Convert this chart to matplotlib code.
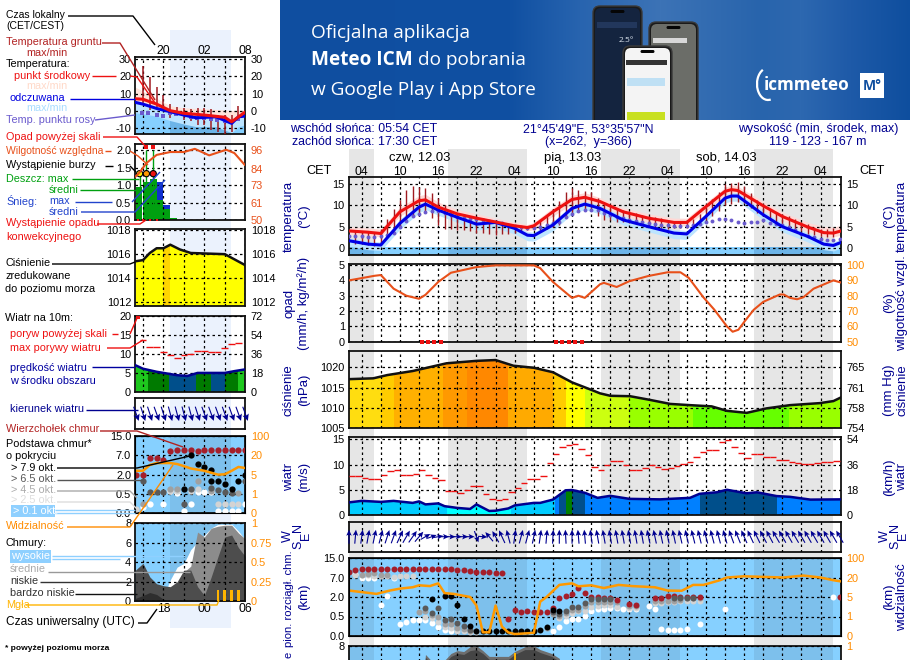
import numpy as np
import matplotlib
matplotlib.use("Agg")
import matplotlib.pyplot as plt
from matplotlib.patches import FancyBboxPatch, Rectangle, Arc

W, H = 910, 660
plt.rcParams['font.family'] = ['Liberation Sans', 'DejaVu Sans']
FS = 7.8
NAVY = '#000090'
ORANGE = '#ff8c00'
RH_COL = '#e8501a'
SKY = '#86d0ff'
SKY_N = '#7dc0ec'

# ---------- main chart, hours counted from 12.03 00 CET
night_main = [(0, 5.9), (17.5, 29.9), (41.5, 53.9), (65.6, 77.9)]
t_hours = [2, 5, 7, 10, 13, 14, 16, 19, 22, 25, 28, 30, 31, 34, 37, 39, 41.4, 45, 49, 53, 55, 58, 61, 62, 63, 67, 70, 74, 76.5, 78, 79.2]
t_mid = [4.0, 3.7, 3.4, 8.5, 11.1, 11.3, 9.6, 8, 7, 6.1, 5.2, 4.8, 5.2, 8.5, 11.4, 11.9, 10.9, 8.5, 7, 6, 6, 9.7, 13.3, 13.7, 13.5, 9.9, 7.4, 4.9, 3.6, 3.5, 4.0]
t_hi = [5, 4.7, 4.4, 9.6, 12.3, 12.6, 10.8, 9, 8, 7, 6, 5.5, 6, 9.5, 12.4, 13, 11.8, 9.4, 8, 7, 7, 10.7, 14.2, 14.8, 14.5, 10.9, 8.4, 6, 5, 4.9, 5.3]
t_lo = [3.2, 2.9, 2.6, 7.5, 10, 10.2, 8.7, 7, 6, 5.2, 4.4, 4, 4.3, 7.5, 10.3, 10.8, 9.9, 7.6, 6, 5.2, 5.2, 8.7, 12.2, 12.7, 12.5, 8.9, 6.5, 3.9, 2.7, 2.6, 3]
felt = [1.7, 0.9, 0.7, 5.8, 9.6, 10.3, 8.9, 7.2, 5.6, 6, 4.6, 3, 2.9, 5.4, 9.3, 10.3, 9.3, 6.6, 5, 3.5, 3.3, 7.4, 11.7, 12.2, 12.2, 7.8, 5, 2.7, 0.9, 0.6, 1.3]
felt_hi = [2.4, 1.6, 1.4, 6.8, 10.4, 11.1, 9.7, 8, 6.4, 6.8, 5.4, 3.8, 3.7, 6.3, 10.1, 11, 10.1, 7.4, 5.8, 4.3, 4.1, 8.2, 12.4, 13, 13, 8.7, 5.8, 3.5, 1.7, 1.4, 2.1]
felt_lo = [0.4, -.4, -.6, 4.4, 8.3, 9, 7.7, 6, 4.2, 4.7, 3.3, 1.7, 1.6, 4, 8, 9, 8, 5.4, 3.8, 2.2, 2, 6.2, 10.6, 11, 11, 6.6, 3.8, 1.4, -.4, -.7, 0]
dew = [2.9, 2.8, 2.7, 2.6, 2.6, 2.7, 3, 3.6, 5, 6.4, 7.4, 8, 8.5, 8.8, 8.7, 8.2, 7.7, 7.2, 7, 6.9, 6.9, 6.6, 6.3, 6.1, 5.8, 5.5, 5.2, 4.9, 4.6, 4.6, 5, 5.5, 5.8, 6.2, 7.3, 8, 8.6, 8.9, 9, 8.9, 8.2, 7.8, 7.3, 7, 6.6, 6.3, 6.1, 5.9, 5.7, 5.5, 5.4, 5.2, 5.1, 5.1, 5.3, 5.7, 6, 6.4, 6.8, 6.9, 6.6, 6.1, 5.8, 6, 6.2, 6.5, 5.9, 5.7, 5.3, 5, 4.2, 3.2, 2.9, 2.5, 2.2, 1.9, 1.8, 2]
tg_max = [4.3, 4.0, 3.8, 3.8, 4.5, 6.7, 9.1, 11.3, 13.5, 14.6, 14.4, 14, 12.9, 11.7, 10, 8.8, 8.3, 8, 7.6, 7.4, 7, 6.6, 6.3, 6, 5.7, 5.3, 5, 4.9, 5.3, 6.3, 7.6, 9.2, 11, 13.2, 14.2, 13.5, 13.3, 13.1, 11.8, 10.5, 10, 9.5, 9, 8.6, 8.2, 7.8, 7.4, 7.2, 7, 6.6, 6.2, 6, 6.2, 6.8, 8, 9.7, 11.5, 13.1, 15, 15.2, 15.5, 14.6, 13, 11.3, 10, 9, 8.5, 8, 7.5, 6.8, 6.2, 5.6, 5, 4.5, 4.4, 4.6]
tg_min = [1.0, 0.9, 0.7, 0.5, 1, 3, 4, 5, 6, 7.2, 8, 8.5, 7, 5.5, 4.5, 4.5, 4.3, 4.2, 4, 3.4, 3.5, 3.2, 3.1, 3.2, 3.2, 3.5, 3.8, 4.3, 4.3, 4.2, 4.5, 5, 5.5, 7, 8, 8.5, 8.8, 9, 7.5, 6.5, 6.5, 6.2, 6, 5.8, 5.6, 5.4, 5, 4.8, 4.6, 4.5, 4.6, 4.6, 4.8, 5.2, 6, 6.5, 7.6, 8.7, 10, 10.4, 10.8, 10.5, 9.5, 8.2, 7.5, 6.6, 6, 5.5, 5, 4.3, 3.9, 3.3, 3, 2.8, 2.5, 2.5]

rh_hours = [2, 6, 7, 9, 11, 13, 14, 16, 18, 22, 25, 31, 32, 34, 37, 38, 39, 41.4, 42, 44, 46, 49, 52, 54, 55.3, 57.6, 59.3, 61.3, 62.2, 63.1, 64.1, 65.5, 67, 69.6, 70.2, 71.2, 72.3, 73.3, 74.9, 78, 79.2]
rh = [90, 93, 93.5, 84.6, 80, 78, 80.6, 89, 95, 98.7, 99.8, 99.8, 98, 89, 78.6, 80, 78.6, 87.5, 88.4, 85.7, 89.5, 92.9, 95.3, 95.3, 91.7, 79, 71, 60, 56.5, 57.8, 63.4, 70.8, 76, 80.8, 80.8, 78.6, 77.7, 79, 84.6, 90, 88.6]
conv_hours = [13.4, 14.4, 15.4, 16.4, 34.5, 35.5, 36.5, 37.5, 38.5]

p_hours = [2, 5.8, 8, 12, 17.3, 22, 25, 27.8, 31, 34, 37, 39.8, 41.4, 43, 46.1, 49.2, 52.4, 55.5, 58.9, 61.3, 64.4, 67.5, 71.2, 75.9, 78, 79.2]
pres = [1017.1, 1017.3, 1018.1, 1019.1, 1021, 1021.6, 1021.8, 1020.4, 1019.9, 1018.8, 1016.3, 1014.6, 1013.6, 1013, 1012.9, 1012, 1011, 1010.7, 1010.4, 1009.3, 1008.8, 1009.9, 1010.7, 1011.2, 1011.7, 1012.6]
p_edges = [2, 7, 9, 16.8, 20.5, 27, 34, 36, 39, 46, 56, 71, 79.2]
p_colors = ['#ffdd10', '#ffcc00', '#ffb000', '#ff9900', '#ff8800', '#ffaa00', '#ffcc00', '#ffff00', '#ccff10', '#99ff00', '#66ff00', '#99ff00']

w_hours = [2, 4, 7, 9, 12, 13, 14, 16, 17, 19, 21, 22, 24, 25, 27, 28, 31, 32, 34, 36, 37, 39, 41, 43, 46, 50.8, 55.5, 57, 59.7, 61.3, 64.4, 66, 69.1, 71.2, 74.4, 79.2]
wind = [2.5, 2.8, 2.6, 2.8, 2.4, 2.7, 2.1, 2.3, 1.75, 1.4, 1.2, 2.1, 0.8, 0.85, 1.3, 1.9, 2.4, 2.4, 3.05, 4.9, 4.95, 4.4, 3.4, 3.8, 3.2, 3.1, 3.4, 4.2, 4.5, 5, 4.3, 4.5, 3.75, 3.6, 3.05, 3.1]
w_edges = [2, 17.4, 27.4, 34.3, 35, 36, 37, 39, 57.1, 69.1, 79.2]
w_colors = ['#00ccff', '#00ffff', '#00ccff', '#0080ff', '#004f8b', '#008000', '#004f8b', '#0080ff', '#004f8b', '#0080ff']
# one gust value per hour, h2 .. h78
gust = [7.7, 7.7, 7.3, 7.1, 7.1, 7.9, 8.7, 8.9, 7.9, 7.9, 8.1, 8.9, 7.9, 7.3, 6.9, 4.8, 4.7, 4.4, 4.9, 5.8, 5.8, 4.2, 3.2, 2.9, 3.2, 4.6, 5.3, 6.4, 7.1, 7.1, 7.7, 10.3, 12, 13.4, 13.8, 14, 13, 11.8, 9.5, 9, 9.9, 10.8, 10.8, 9.9, 8.9, 8.9, 9.3, 9.9, 9.6, 9.1, 9.3, 9.7, 10.1, 10.6, 11.4, 12.4, 12.8, 12.8, 14.5, 14.9, 13.4, 12.2, 11.2, 12, 12, 11.4, 11.4, 11, 11, 10.6, 10.3, 10.1, 10.1, 10.3, 10.5, 10.5, 10.8]
# arrow heading, degrees clockwise from north, h2 .. h79
dir_deg = [0, 5, 8, 10, 12, 15, 18, 20, 25, 30, 35, 40, 60, 70, 80, 90, 90, 90, 90, 90, 160, 95, 320, 330, 335, 345, 8, 15, 15, 12, 8, 5, 3, 0, 357, 0, 355, 355, 352, 350, 350, 350, 350, 350, 350, 350, 350, 348, 348, 348, 348, 348, 347, 347, 346, 346, 345, 345, 345, 344, 340, 338, 336, 335, 334, 332, 332, 330, 330, 330, 330, 330, 330, 330, 330, 330, 330, 330]
dir_len = [14, 14, 14, 14, 14, 14, 14, 14, 14, 14, 14, 13, 11, 10, 10, 9, 9, 9, 9, 9, 12, 9, 12, 13, 14, 14, 14, 14, 14, 14, 14, 14, 14, 14, 14, 14, 14, 14, 14, 14, 14, 14, 14, 14, 14, 14, 14, 14, 14, 14, 14, 14, 14, 14, 14, 14, 14, 14, 14, 14, 14, 14, 14, 14, 14, 14, 14, 14, 14, 14, 14, 14, 14, 14, 14, 14, 14, 14]

top_h = [2, 3, 4, 5, 6, 7, 8, 9, 10, 11, 12, 13, 14, 15, 16, 17, 18, 19, 20, 21, 22, 23, 24, 25, 26, 27, 28, 29, 30, 31, 32, 33, 34, 35, 36, 37, 38, 39, 40, 41, 42, 43, 44, 46, 47, 50, 51, 52, 53, 54, 55, 56, 57, 79]
top_km = [9.4, 10, 10.6, 10.6, 10.6, 10.6, 10.6, 10.6, 10.6, 10.6, 10.6, 10.6, 10.6, 10.6, 10.6, 10.6, 10.4, 10.2, 9.9, 9.6, 9.4, 9.3, 9.1, 9, 9, .43, .98, .87, .9, .82, .82, .87, 1.19, 1.9, 2.3, 2.8, 4.4, 3, 2, 2, 1.9, 1.9, 1.8, 1.46, 1.37, 1.9, 1.9, 2.2, 2.2, 2.1, 2.1, 2.1, 2.1, 2]
b79_h = [15, 17, 18, 19, 20, 21, 22, 23, 24, 25, 26, 27, 28, 29, 30, 31, 32, 33, 34, 35]
b79_km = [1.83, 2.3, 2.3, 1.38, .43, .25, .14, .14, .14, .14, .14, .14, .14, .14, .14, .14, .15, .24, 1.0, .9]
b65_h = [14, 15, 16, 17, 18, 19, 20, 21, 34, 35, 36, 37, 38, 39, 40, 41, 42, 43, 53, 54, 55, 56]
b65_km = [1.13, .8, 1.13, .4, .43, .33, .26, .15, .85, .67, .95, 1.25, 1.25, 1.55, 1.85, 1.85, 1.85, 1.85, 1.9, 1.95, 1.9, 1.95]
b45_h = [4, 5, 6, 7, 8, 13, 14, 15, 16, 17, 18, 19, 20, 21, 22, 33, 34, 35, 36, 37, 38, 39, 40, 41, 42, 43, 44, 46, 47, 50, 51, 52, 53, 54, 55, 56, 57]
b45_km = [8.2, 8.6, 8.8, 8, 8, .85, .9, .6, .5, .32, .3, .2, .18, .13, .12, .2, .7, .55, .8, 1, 1, 1.3, 1.6, 1.6, 1.6, 1.6, 1.6, 1.3, 1.3, 1.7, 1.7, 1.7, 1.7, 1.8, 1.9, 1.9, 1.9]
b25_h = [3, 4, 5, 6, 7, 8, 9, 10, 11, 12, 14, 15, 16, 17, 18, 19, 20, 21, 22, 35, 36, 37, 38, 39, 40, 41, 42, 43, 44, 46, 47, 50, 51, 52, 53, 54, 55, 56, 57]
b25_km = [8, 8, 8, 7.8, 7.8, 7.8, 7.2, 7.5, 7.5, 7.5, .5, .45, .35, .22, .2, .13, .12, .11, .11, .47, .55, .8, .9, .95, 1.2, 1.3, 1.35, 1.35, 1.25, 1.15, 1.15, 1.55, 1.55, 1.6, 1.6, 1.7, 1.7, 1.7, 1.7]
b01_h = [3, 4, 5, 6, 7, 8, 9, 10, 11, 12, 13, 14, 15, 16, 17, 18, 34, 35, 36, 37, 38, 39, 40, 41, 42, 43, 44, 45, 46, 47, 49, 50, 51, 52, 53, 54, 55, 57, 61, 78]
b01_km = [8.3, 7, 7, 7, 1.4, 2.35, 7, .31, .37, .42, .42, .41, .34, .24, .15, .13, .13, .24, .38, .43, .43, .55, .9, 1.05, 1.1, 1.15, 1.15, 1.05, 1.05, 1.05, 1.3, 1.05, .18, .15, .15, .15, .19, .32, 1.1, 2]
vis_h = [2, 4.3, 6.3, 8.4, 10, 12, 13, 14.7, 16, 17, 18.4, 21, 22, 23, 24, 25, 26, 27, 28, 30, 31, 32, 33, 35, 37, 38, 40, 42, 44.3, 46.4, 50, 52, 54.2, 56, 57.6, 60.2, 61.3, 64, 70.2, 73.3, 76, 78, 79.2]
vis_km = [3.65, 3.2, 2.8, 3.65, 4.15, 4.5, 5, 4.8, 5.5, 3, 2.8, 2, 1.34, .095, .095, 1.34, .24, .09, .05, .07, .08, 1.64, 2, 5.1, 5.5, 4.75, 5, 4.3, 5.1, 4.8, 4.5, 3.65, 3.6, 5.1, 5.1, 6.3, 7, 7.5, 7, 7.8, 7, 6.3, 6]
cl_h = [2, 13, 14, 15, 16, 17, 18, 19, 20, 21, 22, 23, 24, 25, 27, 28, 29.6, 31, 32, 33.8, 35, 36.5, 79.2]
cl_low = [0, 0, 6.8, 6.1, 6.1, 6.2, 6.9, 7.2, 7.1, 7.5, 7.6, 7.2, 6.6, 6.6, 6.6, 7.1, 7.6, 7.6, 7.3, 6.9, 6.4, 0, 0]
cl_mid = [0, 0, 7.1, 6.4, 6.4, 6.5, 7.2, 7.5, 7.4, 7.9, 8, 7.5, 6.9, 6.9, 6.9, 7.4, 7.9, 8, 7.6, 7.2, 6.7, 0, 0]
fog_h = [28]
fog_p = [.9]

# ---------- small chart on the left, hours from 12.03 00 local
night_left = (20.9, 29.9)
lt_h = [15.9, 17, 19, 21, 23, 26, 29, 30, 31.9]
lt_mid = [7.1, 6.8, 4, 0.2, -1.3, -2.3, -3.6, -6.2, -.8]
lt_hi = [13.7, 11.5, 7.3, 3, 1.9, 1.3, .6, .3, .6]
lt_lo = [5.5, 5, 2.2, -1, -2.5, -3.5, -5, -7.5, -2.5]
lf_h = [15.9, 17, 19, 21, 23, 24.8, 27.7, 30, 31, 31.9]
lf = [5, 4, 1.5, -.4, -2.3, -3.9, -3.3, -7.1, -3.3, -2.9]
lf_lo = [-1, -1.5, -3, -5.5, -7.5, -9, -9, -12.5, -9, -8]
ld_h = [16.8, 17.8, 19, 20, 21, 21.9, 23, 24, 24.9, 25.9, 26.9, 27.9, 29, 29.9, 31]
ld = [-1.4, -1.4, -2.3, -2.9, -1.4, -1.7, -1.9, -3.3, -4.2, -4.2, -4.6, -5.2, -5.6, -6.2, -4.8]
lg_h = [17, 18, 19, 20, 21, 22, 23, 24, 25, 26, 27, 28, 29, 30, 31]
lg_max = [25.7, 19.5, 13.9, 9, 4, 2.5, 2, 1, 1.5, 1.5, 1, -2, -2, -2, 3]
lg_min = [4.4, .6, 2.5, 0, -4, -3, -5, -6, -8, -8, -11, -12, -13, -12, -3]
rain_h = [15.9, 17, 18, 19, 20, 21]
rain_mean = [.95, 1.1, 1.17, .57, .33, .07]
snow_mean = [0, 0, 0, 1.1, .43, 0]
rain_max = [1.33, 2.0, 2.0]
rain_max_h = [16.5, 17.5, 18.5]
storm_col = ['#ffee00', '#ff9900', '#ee1111']
lrh_h = [15.9, 16.5, 17.5, 19, 21, 23, 24.6, 26.7, 29.2, 30.4, 31.9]
lrh = [78.7, 81.4, 87.6, 93, 94.9, 94.9, 97, 92.7, 96.4, 94.2, 86.5]
lp_h = [15.9, 17, 18, 19, 20, 21, 22.4, 24, 29, 31.9]
lp = [1015.4, 1015.5, 1016.1, 1016.5, 1016.5, 1016.8, 1016.4, 1016.1, 1016, 1015.1]
lw_h = [15.9, 17, 19, 22, 23.5, 25, 29, 30.5, 31.9]
lwind = [7, 6.1, 5.3, 4.4, 4.2, 5, 5, 5.5, 5.9]
lw_edges = [15.9, 17.7, 20.8, 24.8, 26.9, 29, 31, 31.9]
lw_colors = ['#1ec81e', '#007a00', '#004f8b', '#007a00', '#004f8b', '#007a00', '#1ec81e']
lgust_h = [17, 18, 19, 20, 21, 22, 23, 24, 25, 26, 27, 28, 29, 30, 31]
lgust = [13.5, 11.7, 11.7, 10.5, 9.6, 8.8, 9.8, 10, 10.8, 10.8, 10.5, 10.5, 11.6, 12.6, 12.9]
ldir_h = [16, 17, 18, 19, 20, 21, 22, 23, 24, 25, 26, 27, 28, 29, 30, 31, 32]
ldir = [160, 162, 162, 160, 162, 165, 165, 165, 165, 162, 160, 160, 160, 160, 160, 160, 160]
ltop_h = [16, 17, 18, 19, 20, 21, 22, 23, 24, 25, 26, 27, 28, 29, 30, 31, 32]
ltop = [2, 2, 6.2, 6.2, 5.9, 8.6, 9, 9, 9, 8.6, 9, 9, 9, 9, 9, 9, 9]
lb79_h = [23, 24, 25, 26, 27, 27, 28, 29, 30, 31, 32]
lb79 = [.88, 7, 4.75, 3.85, 3.25, 1.5, 1.5, 1.25, .9, 1.5, 2]
lb65_h = [17, 18, 19, 20, 23, 24, 27, 28, 29, 30, 32]
lb65 = [1.5, .65, .65, .65, .25, .9, .95, .8, .65, .6, 1.5]
lb45_h = [17, 21, 22, 25, 27, 31]
lb45 = [.24, .9, .9, 1.5, .7, .55]
lb25_h = [16, 21, 22, 24, 25, 28, 29, 30, 31]
lb25 = [.1, .7, .7, .7, .85, .25, .25, .25, .25]
lb01_h = [17, 18, 20, 21, 22, 23, 24, 25, 26, 27, 28, 29, 30, 31, 32]
lb01 = [.16, .25, .25, .7, .6, .07, .25, .65, .65, .65, .07, .07, .07, .07, .25]
lv_h = [15.9, 17, 18, 19, 21, 22, 23, 24, 26, 28, 29, 30, 31, 32]
lv = [3, 3, 4.5, 5, 5, 4.75, 4.2, 3.6, 3, 2, 2.1, 3, 4, 3.7]
lc_h = [15.9, 17, 18, 19, 20, 21, 22, 23, 24, 25, 26, 27, 28, 29, 30, 31, 32]
lc_high = [0, 0, 0, 0, .45, 2.2, 3.5, 3.9, 5.3, 6.1, 6.8, 7.5, 7.9, 7.9, 7.9, 7.2, 6.3]
lc_mid = [0, 0, 0, 0, .3, .8, 1.5, 3, 3.6, 7.1, 6.6, 7.5, 7.7, 7.8, 7.8, 7, 6.4]
lc_low = [3.2, 3.9, 2.5, 1.8, 1.6, 1.5, 2, 3.2, 3.2, 1.5, .6, 2.5, 4.6, 6.6, 6.8, 5.5, 4.6]
lc_vlow = [.3, .6, .9, .7, .2, 0, 0, 0, 0, 0, 0, 0, 0, 0, 0, 0, 0]
lfog_h = [28, 29, 30, 31]
lfog = [.14, .14, .14, .14]

base_ticks = [0.0, 0.5, 2.0, 7.0, 15.0]
vis_ticks = [0.0, 1.0, 5.0, 20.0, 100.0]

fig = plt.figure(figsize=(W / 100, H / 100), dpi=100)


def panel(x0, x1, y0, y1, xlim, ylim, zorder=2, face='none'):
    ax = fig.add_axes([x0 / W, 1 - y1 / H, (x1 - x0) / W, (y1 - y0) / H], zorder=zorder, facecolor=face)
    ax.set_xlim(*xlim)
    ax.set_ylim(*ylim)
    for s in ax.spines.values():
        s.set_linewidth(1.3)
        s.set_color('#111111')
    return ax


def mainp(y0, y1, ylim, face='none'):
    ax = panel(349, 841, y0, y1, (2, 79.2), ylim, face=face)
    ax.set_xticks(np.arange(4, 79, 3))
    return ax


def leftp(y0, y1, ylim, face='none'):
    ax = panel(135.3, 245.3, y0, y1, (15.87, 32), ylim, face=face)
    ax.set_xticks(np.arange(17, 33, 3))
    return ax


def style(ax, ticks, labels=None, grid_y=True):
    ax.set_yticks(ticks)
    if labels is not None:
        ax.set_yticklabels(labels)
    ax.set_xticklabels([])
    ax.tick_params(length=0, labelsize=7.9, pad=3)
    ax.set_axisbelow(False)
    ax.grid(True, axis='x', color='k', lw=0.9, ls=(0, (2, 2.4)))
    if grid_y:
        ax.grid(True, axis='y', color='k', lw=0.9, ls=(0, (2, 2.4)))


def right(ax, ylim, ticks, labels, color='k'):
    ax2 = ax.twinx()
    ax2.set_ylim(*ylim)
    ax2.set_yticks(ticks)
    ax2.set_yticklabels(labels)
    ax2.tick_params(length=0, labelsize=7.9, pad=4, labelcolor=color)
    for s in ax2.spines.values():
        s.set_visible(False)
    return ax2


def bands(ax, xs, ys, base, edges, colors):
    poly = ax.fill_between(xs, ys, base, color='none', lw=0)
    clip = poly.get_paths()[0]
    for a, b, c in zip(edges[:-1], edges[1:], colors):
        r = ax.axvspan(a, b, color=c, lw=0)
        r.set_clip_path(clip, ax.transData)


def cloud_scale(ticks):
    pos = [0, 1, 2, 3, 4]
    return (lambda v: np.interp(v, ticks, pos), lambda p: np.interp(p, pos, ticks))


def cloud_dots(ax, groups, ms):
    for xs, ys, col in groups:
        ax.plot(xs, ys, 'o', color=col, ms=ms, mew=0, zorder=4, clip_on=True)


# backgrounds
bg = fig.add_axes([349 / W, 0, (841 - 349) / W, 1 - 149 / H], zorder=0)
bg.set_xlim(2, 79.2)
bg.axis('off')
for a, b in night_main:
    bg.axvspan(a, b, color='#e6e6e6', lw=0)
bgl = fig.add_axes([135.3 / W, 1 - 628 / H, 110 / W, (628 - 30) / H], zorder=0)
bgl.set_xlim(15.87, 32)
bgl.axis('off')
bgl.axvspan(night_left[0], night_left[1], color='#ebf2fd', lw=0)

# ---------- temperature
ax = mainp(177.3, 255, (-1.65, 16.6))
style(ax, [0, 5, 10, 15])
ax.set_xticklabels(['04', '', '10', '', '16', '', '22', '', '04', '', '10', '', '16', '', '22', '', '04', '', '10', '', '16', '', '22', '', '04'])
ax.tick_params(axis='x', labeltop=True, labelbottom=False, pad=-0.5, labelsize=8.7)
ax.axhspan(-1.65, 0.3, color=SKY, lw=0, zorder=0.5)
for a, b in night_main:
    ax.fill_between([a, b], -1.65, 0.3, color='#6cb4e8', lw=0, zorder=0.6)
ax.fill_between(t_hours, t_lo, t_hi, color='#ffd9d6', lw=0, zorder=0.8)
ax.fill_between(t_hours, felt_lo, felt_hi, color='#bce4ff', lw=0, zorder=0.9)
ax.vlines(np.arange(3, 79), tg_min, tg_max, color='#a01a20', lw=1.0, zorder=3)
ax.plot(np.arange(2, 80), dew, 'o', color='#6a5acd', ms=2.8, mew=0, zorder=3.2)
ax.plot(t_hours, felt, color='#0000e6', lw=2.2, zorder=3.5)
ax.plot(t_hours, t_mid, color='#ee1111', lw=2.2, zorder=3.6)
right(ax, ax.get_ylim(), [0, 5, 10, 15], ['0', '5', '10', '15'])

# ---------- rain and humidity
ax = mainp(264, 341.7, (0, 5.07))
style(ax, [0, 1, 2, 3, 4, 5])
ax.plot(conv_hours, [0.0] * len(conv_hours), 's', color='#ee1111', ms=2.2, mew=0, clip_on=False, zorder=5)
ax2 = right(ax, (50, 100.7), [50, 60, 70, 80, 90, 100], ['50', '60', '70', '80', '90', '100'], ORANGE)
ax2.plot(rh_hours, rh, color=RH_COL, lw=1.5)

# ---------- pressure
ax = mainp(350.7, 428.3, (1005, 1024.1))
style(ax, [1005, 1010, 1015, 1020])
bands(ax, p_hours, pres, 1005, p_edges, p_colors)
ax.plot(p_hours, pres, color='#111111', lw=1.8, zorder=3.5)
right(ax, ax.get_ylim(), [1005, 1010, 1015, 1020], ['754', '758', '761', '765'])

# ---------- wind
ax = mainp(437.3, 515, (0, 15.4))
style(ax, [0, 5, 10, 15])
bands(ax, w_hours, wind, 0, w_edges, w_colors)
ax.plot(w_hours, wind, color='#000090', lw=1.8, zorder=3.5)
gh = np.arange(2, 79)
ax.hlines(gust, gh, gh + 1, color='#ee1111', lw=1.0, zorder=3.6)
right(ax, ax.get_ylim(), [0, 5, 10, 15], ['0', '18', '36', '54'])

# ---------- wind direction
ax = mainp(521.7, 551.7, (-1, 1))
style(ax, [], grid_y=False)
ang = np.radians(dir_deg)
ax.quiver(np.arange(2, 80), np.zeros(78), np.array(dir_len) * np.sin(ang), np.array(dir_len) * np.cos(ang),
          angles='uv', scale_units='dots', scale=1, units='dots', width=1.1, headwidth=5, headlength=5.5,
          headaxislength=4.5, pivot='mid', color=NAVY, zorder=3, clip_on=False)

# ---------- cloud base and visibility
ax = mainp(558, 636, (0, 15), face=SKY)
ax.set_yscale('function', functions=cloud_scale(base_ticks))
style(ax, base_ticks, ['0.0', '0.5', '2.0', '7.0', '15.0'])
for a, b in night_main:
    ax.axvspan(a, b, color=SKY_N, lw=0, zorder=0.5)
cloud_dots(ax, [(b01_h, b01_km, 'white'), (b25_h, b25_km, '#d3d3d3'), (b45_h, b45_km, '#a0a0a0'),
                (top_h, top_km, '#a51f2a'), (b65_h, b65_km, '#5a5a5a'), (b79_h, b79_km, 'black')], 4.3)
ax2 = ax.twinx()
ax2.set_ylim(0, 100)
ax2.set_yscale('function', functions=cloud_scale(vis_ticks))
ax2.set_yticks(vis_ticks)
ax2.set_yticklabels(['0', '1', '5', '20', '100'])
ax2.tick_params(length=0, labelsize=7.9, pad=4, labelcolor=ORANGE)
ax.plot(vis_h, vis_km, color='#ff9900', lw=1.8, zorder=5)

# ---------- cloud cover, mostly below the picture edge, so only the top tick gets a label
ax = mainp(645.7, 723.5, (0, 8), face=SKY)
style(ax, [0, 2, 4, 6, 8], ['', '', '', '', '8'])
for a, b in night_main:
    ax.axvspan(a, b, color=SKY_N, lw=0, zorder=0.5)
ax.fill_between(cl_h, 0, cl_mid, color='#6e6e6e', lw=0, zorder=1)
ax.fill_between(cl_h, 0, cl_low, color='#454545', lw=0, zorder=1.1)
ax.bar(fog_h, np.array(fog_p) * 8, width=0.35, color='#ffb400', zorder=3.5)
right(ax, (0, 1), [1], ['1'], ORANGE)

# ---------- left: temperature
ax = leftp(57.3, 134.3, (-13.4, 31))
style(ax, [-10, 0, 10, 20, 30], ['-10', '0', '10', '20', '30'])
ax.set_xticklabels(['', '20', '', '02', '', '08'])
ax.tick_params(axis='x', labeltop=True, labelbottom=False, pad=0, labelsize=8.7)
ax.axhspan(-13.4, -1, color=SKY, lw=0, zorder=0.5)
ax.fill_between(night_left, -13.4, -1, color='#6cb4e8', lw=0, zorder=0.6)
ax.fill_between(lt_h, lt_lo, lt_hi, color='#ffe3da', lw=0, zorder=0.8)
ax.fill_between(lf_h, lf_lo, lf, color='#bce4ff', lw=0, zorder=0.9)
ax.vlines(lg_h, lg_min, lg_max, color='#a01a20', lw=1.1, zorder=3)
ax.plot(ld_h, ld, 's', color='#6a5acd', ms=2.5, mew=0, zorder=3.2)
ax.plot(lf_h, lf, color='#0000e6', lw=2.2, zorder=3.5)
ax.plot(lt_h, lt_mid, color='#ee1111', lw=2.2, zorder=3.6)
right(ax, ax.get_ylim(), [-10, 0, 10, 20, 30], ['-10', '0', '10', '20', '30'])

# ---------- left: rain and humidity
ax = leftp(143.7, 220, (0, 2.19))
style(ax, [0, .5, 1, 1.5, 2], ['0.0', '0.5', '1.0', '1.5', '2.0'])
ax.bar(rain_h[:-1], rain_mean[:-1], width=1.0, align='edge', color='#00a010', lw=0, zorder=1)
ax.bar(rain_h[3:5], np.array(snow_mean[3:5]) - np.array(rain_mean[3:5]), bottom=rain_mean[3:5], width=1.0,
       align='edge', color='#1030d0', lw=0, zorder=1)
ax.bar(rain_h[-1], rain_mean[-1], width=1.0, align='edge', color='#00a010', lw=0, zorder=1)
ax.vlines(rain_max_h, 0, rain_max, color='#00a010', lw=1.0, zorder=3)
ax.scatter(rain_max_h, [1.33] * 3, c=storm_col, s=20, edgecolors='k', linewidths=0.8, zorder=5, clip_on=False)
ax.plot(rain_max_h[1:], [2.1, 2.1], 's', color='#ee1111', ms=3, mew=0, zorder=5)
ax.plot([16.2, 17, 18, 19], [0, 0, 0, 0], 's', color='#ee1111', ms=2, mew=0, zorder=5, clip_on=False)
ax2 = right(ax, (50, 100.4), [50, 61, 73, 84, 96], ['50', '61', '73', '84', '96'], RH_COL)
ax2.plot(lrh_h, lrh, color=RH_COL, lw=1.5)

# ---------- left: pressure
ax = leftp(229.3, 306.3, (1011.6, 1018.1))
style(ax, [1012, 1014, 1016, 1018])
bands(ax, lp_h, lp, 1011.6, [15.87, 20, 21, 32], ['#ffff00', '#ffd500', '#ffff00'])
ax.plot(lp_h, lp, color='#111111', lw=1.8, zorder=3.5)
right(ax, ax.get_ylim(), [1012, 1014, 1016, 1018], ['1012', '1014', '1016', '1018'])

# ---------- left: wind
ax = leftp(315.7, 392, (0, 20))
style(ax, [0, 5, 10, 15, 20])
bands(ax, lw_h, lwind, 0, lw_edges, lw_colors)
ax.plot(lw_h, lwind, color='#000090', lw=1.8, zorder=3.5)
ax.hlines(lgust, np.array(lgust_h) - 0.5, np.array(lgust_h) + 0.5, color='#ee1111', lw=1.0, zorder=3.6)
ax.plot([16.3], [19.6], 's', color='#ee1111', ms=3, mew=0, zorder=5)
right(ax, ax.get_ylim(), [0, 5, 10, 15, 20], ['0', '18', '36', '54', '72'])

# ---------- left: wind direction
ax = leftp(398.3, 429.3, (-1, 1))
style(ax, [], grid_y=False)
ang = np.radians(ldir)
ax.quiver(ldir_h, np.zeros(len(ldir_h)), 15 * np.sin(ang), 15 * np.cos(ang), angles='uv', scale_units='dots',
          scale=1, units='dots', width=1.1, headwidth=6, headlength=6, headaxislength=5, pivot='mid',
          color=NAVY, zorder=3, clip_on=False)

# ---------- left: cloud base
ax = leftp(436, 513.3, (0, 15), face=SKY)
ax.set_yscale('function', functions=cloud_scale(base_ticks))
style(ax, base_ticks, ['0.0', '0.5', '2.0', '7.0', '15.0'])
ax.axvspan(night_left[0], night_left[1], color=SKY_N, lw=0, zorder=0.5)
cloud_dots(ax, [(lb01_h, lb01, 'white'), (lb25_h, lb25, '#d3d3d3'), (lb45_h, lb45, '#a0a0a0'),
                (ltop_h, ltop, '#a51f2a'), (lb65_h, lb65, '#5a5a5a'), (lb79_h, lb79, 'black')], 4.5)
ax.plot(lv_h, lv, color='#ff9900', lw=1.8, zorder=5)
ax2 = ax.twinx()
ax2.set_ylim(0, 100)
ax2.set_yscale('function', functions=cloud_scale(vis_ticks))
ax2.set_yticks(vis_ticks)
ax2.set_yticklabels(['0', '1', '5', '20', '100'])
ax2.tick_params(length=0, labelsize=7.9, pad=4, labelcolor=ORANGE)

# ---------- left: cloud cover
ax = leftp(523.3, 601.3, (0, 8), face=SKY)
style(ax, [0, 2, 4, 6, 8])
ax.set_xticklabels(['', '18', '', '00', '', '06'])
ax.tick_params(axis='x', labelbottom=True, pad=1, labelsize=8.7)
ax.axvspan(night_left[0], night_left[1], color=SKY_N, lw=0, zorder=0.5)
ax.fill_between(lc_h, 0, lc_high, color='white', lw=0, zorder=1)
ax.fill_between(lc_h, 0, lc_mid, color='#8c8c8c', lw=0, zorder=1.1)
ax.fill_between(lc_h, 0, lc_low, color='#4d4d4d', lw=0, zorder=1.2)
ax.fill_between(lc_h, 0, lc_vlow, color='#2e2e2e', lw=0, zorder=1.3)
ax2 = right(ax, (0, 1), [0, .25, .5, .75, 1], ['0', '0.25', '0.5', '0.75', '1'], ORANGE)
ax2.bar(lfog_h, lfog, width=0.4, color='#ffb400', zorder=4)

# ---------- banner
ban = fig.add_axes([280 / W, 1 - 120 / H, 630 / W, 120 / H], zorder=1)
gx = np.array([0, 230, 300, 380, 480, 520, 570, 630])
r = np.interp(np.arange(630), gx, [15, 16, 40, 60, 40, 45, 30, 14])
g = np.interp(np.arange(630), gx, [78, 80, 100, 115, 100, 104, 90, 78])
b = np.interp(np.arange(630), gx, [160, 162, 175, 182, 172, 176, 168, 158])
ban.imshow(np.dstack([r, g, b]) / 255, aspect='auto', extent=(280, 910, 120, 0))
ban.set_xlim(280, 910)
ban.set_ylim(120, 0)
ban.axis('off')
fb = ['Open Sans', 'DejaVu Sans']
ban.text(311, 33, 'Oficjalna aplikacja', color='white', fontsize=13.7, family=fb, va='center')
ban.text(311, 60, 'Meteo ICM', color='white', fontsize=13.7, family=fb, weight='bold', va='center')
ban.text(418, 60, 'do pobrania', color='white', fontsize=13.7, family=fb, va='center')
ban.text(311, 90, 'w Google Play i App Store', color='white', fontsize=13.7, family=fb, va='center')
for x0, x1, y0, screen in [(593, 642, 6, '#14243f'), (649, 698, 22, '#6b6d68'), (623, 672, 46, '#f4f4f4')]:
    ban.add_patch(FancyBboxPatch((x0, y0), x1 - x0, 160 - y0, boxstyle='round,pad=0,rounding_size=7', fc='#1a1a1a', ec='#3a3a3a', lw=1))
    ban.add_patch(FancyBboxPatch((x0 + 2, y0 + 2), x1 - x0 - 4, 160 - y0, boxstyle='round,pad=0,rounding_size=6', fc=screen, ec='none'))
    ban.add_patch(FancyBboxPatch(((x0 + x1) / 2 - 7, y0 + 4), 14, 3, boxstyle='round,pad=0,rounding_size=1.5', fc='#050505', ec='none'))
ban.text(619, 41, '2.5°', color='#dde6f0', fontsize=6, family=fb, va='center')
ban.add_patch(Rectangle((597, 22), 40, 6, fc='#22375c', ec='none'))
ban.add_patch(Rectangle((653, 38), 34, 5, fc='#d8d8d8', ec='none'))
ban.add_patch(Rectangle((626, 60), 41, 5, fc='#333333', ec='none'))
ban.add_patch(Rectangle((627, 78), 38, 8, fc='#bfe0f4', ec='none'))
ban.add_patch(Rectangle((627, 112), 38, 8, fc='#c8e020', ec='none'))
ban.text(764, 85, 'icmmeteo', color='white', fontsize=12.3, family=fb, weight='bold', va='center')
ban.add_patch(Arc((768, 84), 22, 32, theta1=80, theta2=250, color='white', lw=1.6))
ban.add_patch(Rectangle((860, 73), 24, 25, fc='white', ec='none'))
ban.text(872, 86, 'M°', color='#0f4fa0', fontsize=10, family=fb, weight='bold', ha='center', va='center')

# ---------- overlay with all the text and leader lines, in picture pixels
ov = fig.add_axes([0, 0, 1, 1], zorder=20, facecolor='none')
ov.set_xlim(0, W)
ov.set_ylim(H, 0)
ov.axis('off')


def T(x, y, s, color='k', ha='left', rot=0, size=FS, **kw):
    ov.text(x, y, s, color=color, ha=ha, va='center', rotation=rot, fontsize=size, **kw)


def L(pts, color='k', lw=1.0):
    ov.plot([p[0] for p in pts], [p[1] for p in pts], color=color, lw=lw, solid_capstyle='butt')


BR = '#b22222'
RED = '#ee1111'
BLU = '#0000e0'
GRN = '#00a010'
SN = '#2244cc'
PUR = '#6a5acd'
T(6, 15, 'Czas lokalny', size=7.5)
T(6, 26, '(CET/CEST)', size=7.5)
L([(68, 16), (133, 16), (155, 45)])
T(6, 42, 'Temperatura gruntu', BR)
T(47, 52.5, 'max/min', BR, ha='center')
L([(102, 43), (120, 43), (155, 100)], BR)
T(6, 64, 'Temperatura:')
T(90, 76, 'punkt środkowy', RED, ha='right')
L([(92, 76), (116, 76)], RED)
L([(130, 76), (137, 77), (155, 103)], RED)
T(47, 86, 'max/min', '#ffd9c8', ha='center')
T(10, 98, 'odczuwana', BLU)
L([(70, 99), (135, 99)], BLU)
T(47, 108, 'max/min', '#a8dcff', ha='center')
T(6, 120, 'Temp. punktu rosy', PUR)
L([(95, 120), (135, 115)], PUR)
T(6, 137, 'Opad powyżej skali', RED)
L([(103, 137), (137, 137), (146, 147)], RED)
T(6, 151, 'Wilgotność względna', RH_COL, size=7.5)
L([(105, 151), (111, 151)], RH_COL)
L([(130, 151), (138, 156), (148, 165)], RH_COL)
T(6, 165, 'Wystąpienie burzy')
L([(105, 166), (113, 166)])
L([(130, 166), (136, 172)])
T(6, 179, 'Deszcz: max', GRN)
L([(72, 179), (139, 179)], GRN)
T(49, 190, 'średni', GRN)
L([(80, 190), (142, 190)], GRN)
T(6, 201, 'Śnieg:', SN)
T(49, 201, 'max', SN)
L([(75, 202), (112, 202)], SN)
L([(132, 202), (160, 172)], SN)
T(49, 212, 'średni', SN)
L([(81, 212), (135, 212), (165, 180)], SN)
T(6, 223, 'Wystąpienie opadu', RED)
T(6, 237, 'konwekcyjnego', RED)
L([(97, 224), (140, 224), (146, 220)], RED)
T(5, 263, 'Ciśnienie')
T(5, 276, 'zredukowane')
T(5, 289, 'do poziomu morza')
L([(52, 264), (130, 264), (135, 262)])
T(5, 318, 'Wiatr na 10m:')
T(10, 334, 'poryw powyżej skali', RED)
L([(112, 334), (118, 334)], RED)
L([(130, 334), (138, 316)], RED)
T(10, 348, 'max porywy wiatru', RED)
L([(107, 348), (130, 348), (143, 340)], RED)
T(10, 368, 'prędkość wiatru', '#0000a0')
T(10, 381, 'w środku obszaru', '#0000a0')
L([(92, 367), (135, 367)], '#0000a0')
T(10, 409, 'kierunek wiatru', NAVY)
L([(86, 410), (138, 410)], NAVY)
T(6, 429, 'Wierzchołek chmur', BR)
L([(100, 431), (137, 431), (183, 447)], BR)
T(6, 444, 'Podstawa chmur*')
T(6, 456, 'o pokryciu')
T(11, 468, '> 7.9 okt.')
L([(57, 468), (137, 468), (190, 456)])
T(11, 479, '> 6.5 okt.', '#555555')
L([(57, 480), (143, 480)], '#555555')
T(11, 490, '> 4.5 okt.', '#aaaaaa')
L([(57, 491), (130, 491), (137, 498)], '#aaaaaa')
T(11, 500, '> 2.5 okt.', '#dddddd')
L([(57, 502), (130, 502), (137, 509)], '#dddddd')
ov.add_patch(Rectangle((11, 505), 44, 12, fc='#8fd0ff', ec='none'))
T(13, 511, '> 0.1 okt.', 'white')
L([(55, 510), (135, 510)], '#8fd0ff')
L([(55, 513), (135, 513)], '#8fd0ff')
T(6, 526, 'Widzialność', ORANGE)
L([(67, 527), (130, 527), (173, 465)], ORANGE)
T(6, 543, 'Chmury:')
ov.add_patch(Rectangle((10, 550), 41, 13, fc='#8fd0ff', ec='none'))
T(11, 556, 'wysokie', 'white')
L([(52, 556), (185, 556)], '#8fd0ff')
L([(52, 559), (120, 559)], '#8fd0ff')
T(10, 569, 'średnie', '#aaaaaa')
L([(48, 572), (190, 572)], '#999999')
T(10, 581, 'niskie', '#333333')
L([(40, 582), (135, 582)], '#333333')
T(10, 593, 'bardzo niskie', '#333333')
L([(75, 594), (137, 594)], '#111111')
T(6, 605, 'Mgła', '#ffb400')
L([(26, 605), (217, 605), (219, 600)], '#ffb400')
T(6, 622, 'Czas uniwersalny (UTC)', size=8.6)
L([(138, 623), (147, 623), (157, 609)])
T(5, 648, '* powyżej poziomu morza', size=6.1, weight='bold')

HS = 8.9
T(290, 129, 'wschód słońca: 05:54 CET', NAVY, size=HS)
T(292, 142, 'zachód słońca: 17:30 CET', NAVY, size=HS)
T(588, 129, '21°45\'49"E, 53°35\'57"N', NAVY, ha='center', size=HS)
T(588, 142, '(x=262,  y=366)', NAVY, ha='center', size=HS)
T(818, 129, 'wysokość (min, środek, max)', NAVY, ha='center', size=HS)
T(818, 142, '119 - 123 - 167 m', NAVY, ha='center', size=HS)
T(420, 158, 'czw, 12.03', ha='center', size=9.4)
T(573, 158, 'pią, 13.03', ha='center', size=9.4)
T(726, 158, 'sob, 14.03', ha='center', size=9.4)
T(319, 171, 'CET', ha='center', size=9.2)
T(872, 171, 'CET', ha='center', size=9.2)

YS = 9.5
for y, a, b in [(216, 'temperatura', '(°C)'), (303, 'opad', '(mm/h, kg/m²/h)'), (390, 'ciśnienie', '(hPa)'),
                (477, 'wiatr', '(m/s)')]:
    T(289, y, a, NAVY, ha='center', rot=90, size=YS)
    T(304, y, b, NAVY, ha='center', rot=90, size=YS)
T(289, 599, 'pion. rozciągł. chm.', NAVY, ha='center', rot=90, size=8.1)
T(304, 597, '(km)', NAVY, ha='center', rot=90, size=YS)
T(289, 655, 'e', NAVY, ha='center', rot=90, size=8.1)
for y, a, b in [(216, 'temperatura', '(°C)'), (303, 'wilgotność wzgl.', '(%)'), (390, 'ciśnienie', '(mm Hg)'),
                (477, 'wiatr', '(km/h)'), (597, 'widzialność', '(km)')]:
    T(902, y, a, NAVY, ha='center', rot=90, size=YS)
    T(889, y, b, NAVY, ha='center', rot=90, size=YS)
for dx in (0, 597):
    T(288 + dx, 536, 'W', NAVY, ha='center', rot=90, size=9)
    T(298 + dx, 527, 'N', NAVY, ha='center', rot=90, size=9)
    T(298 + dx, 545, 'S', NAVY, ha='center', rot=90, size=9)
    T(306 + dx, 536, 'E', NAVY, ha='center', rot=90, size=9)

fig.savefig('out.png', dpi=100)
